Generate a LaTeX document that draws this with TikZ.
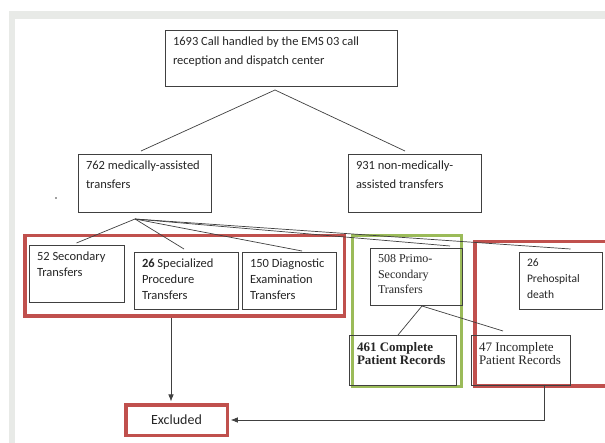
\documentclass[tikz,border=0pt]{standalone}
\usepackage{fontspec}
\setmainfont{Carlito}
\newfontfamily\serifrm{Liberation Serif}
\usepackage{xcolor}
\usetikzlibrary{positioning, arrows.meta}
\definecolor{framered}{HTML}{C0504D}
\definecolor{framegreen}{HTML}{9BBB59}
\definecolor{boxline}{HTML}{404040}
\definecolor{pagegray}{HTML}{E8EAE7}
\newcommand\cell[3]{\parbox[t][#2][t]{#1}{\raggedright\exhyphenpenalty=10000 #3}}

\begin{document}
\begin{tikzpicture}[x=1pt, y=-1pt,
  box/.style={draw=boxline, line width=0.8pt, inner xsep=8pt, inner ysep=7pt, outer sep=0pt,
    anchor=north west, text=black!85, font=\fontsize{12.5}{16}\selectfont},
  redframe/.style={draw=framered, line width=3.5pt},
  greenframe/.style={draw=framegreen, line width=3pt},
  link/.style={draw=boxline, line width=0.7pt}]

  \useasboundingbox (0,0) rectangle (605,443);
  \clip (0,0) rectangle (605,443);
  \fill[pagegray] (9,11) rectangle (605,443);
  \fill[white] (15,19) rectangle (605,443);

  % Рамки
  \node[redframe, minimum width=319.5pt, minimum height=80.5pt] (drop1) at (184.5,276) {};
  \node[greenframe, minimum width=109pt, minimum height=151pt] (keep) at (407,311) {};
  \node[redframe, minimum width=145pt, minimum height=144.5pt] (drop2) at (547.3,314) {};

  \node[box, font=\fontsize{12.5}{18.5}\selectfont] (top) at (165,30) {\cell{216pt}{42pt}{1693 Call handled by the EMS 03 call\\reception and dispatch center}};
  \node[box, font=\fontsize{12.5}{19}\selectfont] (m762) at (78,154) {\cell{117pt}{44pt}{762 medically-assisted\\transfers}};
  \node[box, font=\fontsize{12.5}{19}\selectfont] (n931) at (348,154) {\cell{117pt}{44pt}{931 non-medically-\\assisted transfers}};

  \node[box, font=\fontsize{12.5}{15.5}\selectfont] (sec52) at (29,245) {\cell{79pt}{43pt}{52 Secondary\\Transfers}};
  \node[box] (spec26) at (134,252) {\cell{88pt}{43pt}{\textbf{26} Specialized\\Procedure\\Transfers}};
  \node[box] (diag150) at (242,252) {\cell{78pt}{43pt}{150 Diagnostic\\Examination\\Transfers}};
  \node[box, font=\serifrm\fontsize{12}{15.5}\selectfont] (primo508) at (370,248) {\cell{76pt}{43pt}{508 Primo-\\Secondary\\Transfers}};
  \node[box, font=\fontsize{11.5}{16}\selectfont] (death26) at (519,252) {\cell{67pt}{43pt}{26\\Prehospital\\death}};

  \node[box, font=\serifrm\bfseries\fontsize{13}{13.5}\selectfont] (comp461) at (349,335) {\cell{91pt}{36pt}{461 Complete\\Patient Records}};
  \node[box, font=\serifrm\fontsize{13}{13.5}\selectfont] (inc47) at (471,335) {\cell{83pt}{36pt}{47 Incomplete\\Patient Records}};

  \node[redframe, minimum width=101.5pt, minimum height=30.5pt, text=black!85,
    font=\fontsize{14}{16}\selectfont] (excl) at (176.5,420) {Excluded};

  \fill[boxline] (56,198) circle (0.8pt);

  % Линии
  \coordinate (split) at ([xshift=-6pt, yshift=-4pt]top.south);
  \draw[link] (split) -- ([xshift=-3.5pt, yshift=3pt]m762.north);
  \draw[link] (split) -- ([xshift=-9.5pt, yshift=3pt]n931.north);

  \coordinate (fan) at ([xshift=-9.5pt, yshift=-7pt]m762.south);
  \foreach \tgt/\dx/\dy in {sec52/0/2, spec26/-2/3, diag150/13/1, primo508/34/2, death26/10/3}
    \draw[link] (fan) -- ([xshift=\dx pt, yshift=\dy pt]\tgt.north);

  \coordinate (split2) at ([xshift=6pt, yshift=-1pt]primo508.south);
  \draw[link] (split2) -- ([xshift=-4.5pt]comp461.north);
  \draw[link] (split2) -- ([xshift=-17.5pt, yshift=4pt]inc47.north);

  \draw[link, -{Latex[length=7pt, width=5.5pt]}, shorten >=1.5pt]
    ([xshift=-5.5pt]drop1.south -| excl.north) -- ([xshift=-5.5pt]excl.north);
  \draw[link, -{Latex[length=7pt, width=5.5pt]}, shorten >=1.75pt]
    ([xshift=23.5pt]inc47.south) |- (excl.east);

\end{tikzpicture}
\end{document}
